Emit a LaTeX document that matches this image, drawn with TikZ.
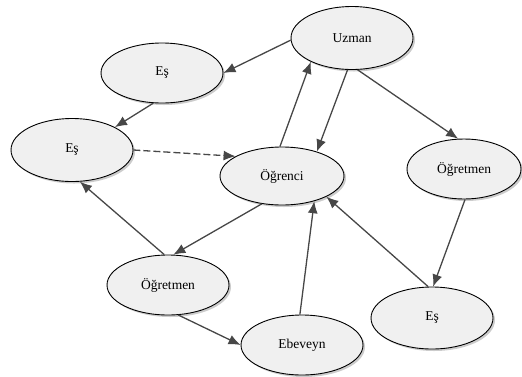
\documentclass[tikz,border=0pt]{standalone}
\usepackage{fontspec}
\setmainfont{Liberation Serif}
\usetikzlibrary{shapes.geometric,arrows.meta,shadows}
\begin{document}
\begin{tikzpicture}[x=1pt,y=1pt,
  ell/.style={ellipse, draw=black, line width=0.9pt, fill=gray!12,
    minimum width=122pt, minimum height=60pt, inner sep=0pt,
    font=\fontsize{13.5}{15}\selectfont,
    drop shadow={shadow xshift=2pt, shadow yshift=-2pt, fill=gray!50, opacity=0.8}},
  edge/.style={draw=black!72, line width=1.3pt,
    -{Latex[length=12pt,width=10pt]}},
  dashedge/.style={edge, dash pattern=on 7pt off 3pt}]
\useasboundingbox (0,0) rectangle (522,-376);
\node[ell] (estop) at (162,-73) {Eş};
\node[ell, minimum height=63pt] (esleft) at (72,-150) {Eş};
\node[ell, minimum height=63pt] (uzman) at (352,-38) {Uzman};
\node[ell, minimum width=114pt] (ogretmenr) at (464,-169) {Öğretmen};
\node[ell, minimum width=124pt, minimum height=58pt] (ogrenci) at (282,-176) {Öğrenci};
\node[ell] (ogretmenl) at (168,-285) {Öğretmen};
\node[ell] (ebeveyn) at (302,-345) {Ebeveyn};
\node[ell, minimum height=62pt] (esbot) at (432,-318) {Eş};

\draw[edge] (uzman.182) -- (estop.0);
\draw[edge] (estop.254) -- (esleft.28);
\draw[dashedge] (esleft.0) -- (ogrenci.157);
\draw[edge] (ogrenci.94) -- (uzman.210);
\draw[edge] (uzman.262) -- (ogrenci.35);
\draw[edge] (uzman.280) -- (ogretmenr.101);
\draw[edge] (ogretmenr.272) -- (esbot.88);
\draw[edge] (esbot.97) -- (ogrenci.335);
\draw[edge] (ebeveyn.94) -- (ogrenci.322);
\draw[edge] (ogrenci.234) -- (ogretmenl.80);
\draw[edge] (ogretmenl.97) -- (esleft.284);
\draw[edge] (ogretmenl.289) -- (ebeveyn.180);
\end{tikzpicture}
\end{document}
